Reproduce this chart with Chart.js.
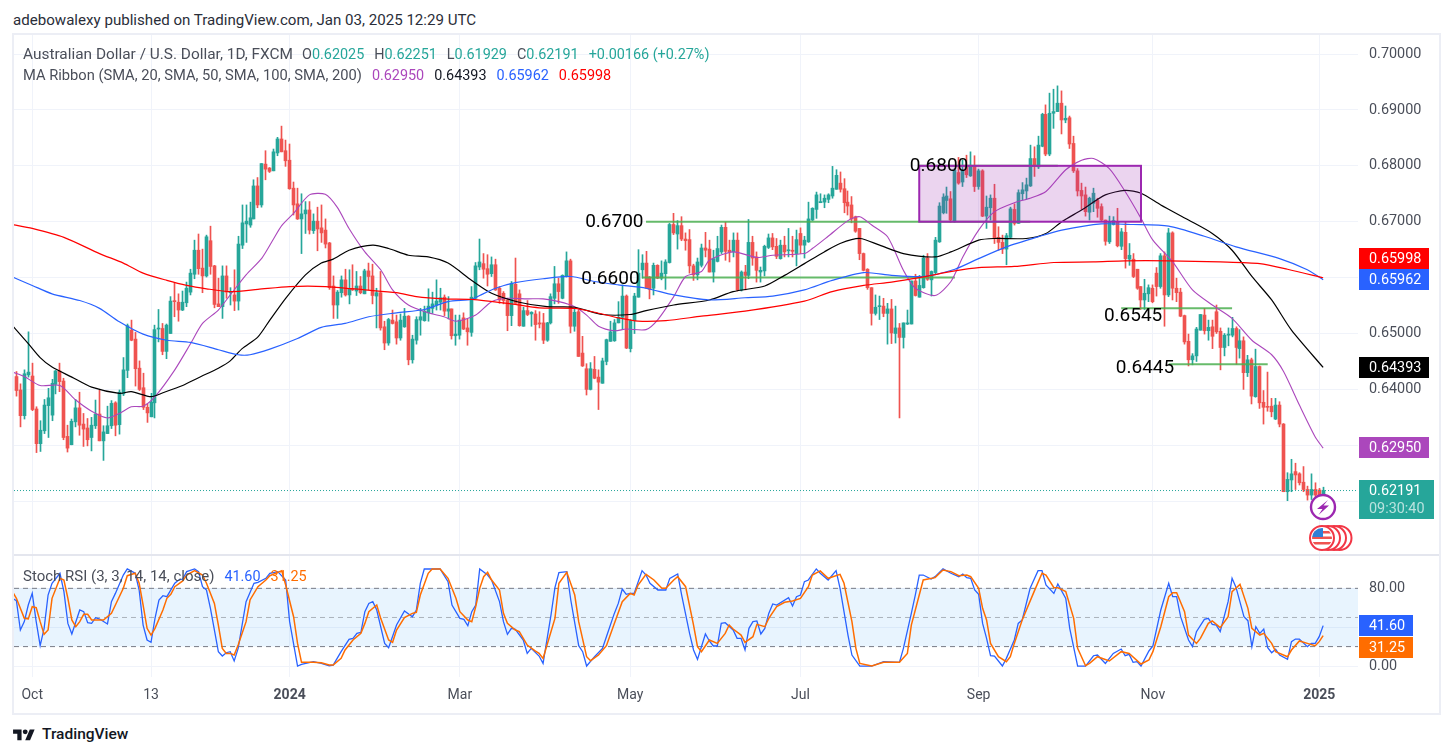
<!DOCTYPE html>
<html lang="en">
<head>
<meta charset="utf-8">
<title>AUD/USD daily</title>
<script src="https://cdn.jsdelivr.net/npm/chart.js@4"></script>
<style>
  html, body { margin: 0; background: #fff; overflow: hidden; }
  body { width: 1453px; height: 756px; position: relative; font-family: Roboto, sans-serif; color: #131722; }
  .abs { position: absolute; white-space: pre; }
  #frame { position: absolute; left: 12px; top: 33px; width: 1425px; height: 678px; border: 2px solid #eceef5; }
  #split { position: absolute; left: 14px; top: 554px; width: 1425px; height: 2px; background: #e4e6ee; }
  canvas { position: absolute; }
  #title { left: 13px; top: 11px; font-size: 15.1px; color: #2a2e39; }
  .legend { left: 23px; color: #4a4e59; }
  .legend span { font-size: 14.4px; margin-left: 10px; }
  .legend span.tight { margin-left: 0; }
  .up { color: #26a69a; }
  #brand { left: 42px; top: 725px; font-size: 15.5px; font-weight: 500; color: #131722; }
  #logo { position: absolute; left: 13px; top: 727px; }
</style>
</head>
<body>
<div id="frame"></div>
<canvas id="priceCanvas" style="left:14px;top:35px"></canvas>
<div id="split"></div>
<canvas id="stochCanvas" style="left:14px;top:556px"></canvas>

<div id="title" class="abs">adebowalexy published on TradingView.com, Jan 03, 2025 12:29 UTC</div>
<div class="abs legend" style="top:45px;font-size:15.4px">Australian Dollar / U.S. Dollar, 1D, FXCM<span style="margin-left:9px">O</span><span class="up tight">0.62025</span><span>H</span><span class="up tight">0.62251</span><span>L</span><span class="up tight">0.61929</span><span>C</span><span class="up tight">0.62191</span><span class="up">+0.00166 (+0.27%)</span></div>
<div class="abs legend" style="top:66px;font-size:14.7px">MA Ribbon (SMA, 20, SMA, 50, SMA, 100, SMA, 200)<span style="color:#ab47bc">0.62950</span><span style="color:#131722">0.64393</span><span style="color:#2962ff">0.65962</span><span style="color:#ff0000">0.65998</span></div>
<div class="abs legend" style="top:567px;font-size:15px">Stoch RSI (3, 3, 14, 14, close)<span style="color:#2962ff">41.60</span><span style="color:#ff6d00">31.25</span></div>

<svg id="logo" width="22" height="17" viewBox="0 0 36 28"><path fill="#131722" d="M14 22H7V11H0V4h14v18zM28 22h-8l7.5-18h8L28 22z"/><circle fill="#131722" cx="20" cy="8" r="4"/></svg>
<div id="brand" class="abs">TradingView</div>

<script>
// Daily AUD/USD candles, in units of 0.0001.
const opens = [6423,6399,6353,6426,6424,6365,6303,6326,6371,6354,
6409,6433,6415,6316,6301,6342,6367,6338,6331,6314,
6335,6356,6308,6321,6335,6376,6337,6392,6434,6506,
6490,6438,6403,6368,6351,6376,6508,6509,6468,6500,
6558,6556,6542,6555,6574,6606,6649,6617,6603,6666,
6621,6553,6548,6603,6573,6569,6558,6658,6696,6694,
6705,6764,6730,6803,6796,6791,6823,6848,6827,6810,
6760,6732,6705,6714,6721,6684,6701,6689,6685,6662,
6585,6551,6573,6596,6569,6580,6576,6585,6571,6612,
6603,6567,6573,6512,6483,6524,6521,6492,6512,6531,
6453,6488,6524,6523,6537,6545,6551,6556,6565,6540,
6544,6496,6497,6528,6510,6502,6563,6619,6625,6616,
6607,6623,6581,6572,6560,6532,6588,6571,6513,6541,
6535,6535,6519,6519,6488,6519,6563,6589,6563,6602,
6630,6513,6539,6465,6437,6400,6436,6422,6411,6450,
6486,6487,6519,6529,6567,6473,6523,6565,6614,6626,
6601,6581,6622,6599,6607,6627,6695,6678,6693,6669,
6668,6621,6605,6622,6653,6651,6610,6629,6646,6690,
6649,6646,6667,6578,6610,6604,6663,6637,6610,6612,
6654,6671,6656,6634,6658,6648,6649,6643,6679,6658,
6664,6703,6722,6734,6735,6740,6746,6758,6769,6759,
6735,6730,6709,6688,6643,6615,6582,6536,6548,6549,
6536,6544,6500,6510,6493,6517,6517,6594,6565,6582,
6635,6596,6609,6664,6716,6738,6741,6701,6788,6771,
6801,6782,6800,6763,6791,6710,6725,6742,6672,6663,
6651,6672,6722,6697,6750,6755,6764,6813,6798,6835,
6892,6821,6894,6897,6912,6882,6886,6840,6791,6756,
6748,6717,6733,6738,6727,6703,6664,6695,6700,6656,
6681,6633,6633,6615,6584,6560,6571,6581,6608,6584,
6639,6569,6680,6581,6574,6532,6486,6453,6460,6506,
6533,6505,6512,6539,6504,6475,6497,6497,6509,6473,
6487,6430,6453,6387,6441,6377,6369,6370,6347,6372,
6338,6217,6238,6253,6249,6234,6221,6211,6221,6220,6202.5];

const closes = [6398,6353,6428,6431,6364,6303,6327,6372,6385,6411,
6433,6414,6314,6295,6343,6367,6336,6329,6310,6336,
6356,6308,6324,6335,6375,6336,6395,6435,6514,6488,
6437,6400,6368,6358,6377,6507,6509,6468,6515,6558,
6557,6542,6556,6581,6608,6649,6616,6603,6673,6620,
6552,6548,6603,6574,6574,6558,6660,6698,6701,6707,
6764,6730,6804,6794,6790,6825,6848,6825,6809,6759,
6730,6705,6714,6721,6685,6701,6687,6680,6660,6582,
6551,6574,6596,6569,6580,6578,6585,6573,6612,6602,
6568,6573,6510,6483,6525,6518,6492,6524,6531,6453,
6490,6525,6530,6540,6549,6553,6558,6564,6540,6544,
6496,6499,6524,6508,6503,6565,6621,6628,6615,6606,
6623,6578,6560,6559,6532,6589,6554,6514,6541,6534,
6538,6516,6517,6488,6519,6566,6589,6575,6604,6630,
6513,6538,6459,6442,6400,6437,6420,6413,6451,6489,
6503,6519,6529,6567,6474,6523,6567,6608,6626,6581,
6579,6622,6599,6608,6628,6695,6680,6693,6669,6666,
6621,6605,6628,6653,6649,6610,6634,6652,6690,6647,
6646,6667,6578,6610,6604,6663,6635,6613,6613,6656,
6671,6655,6638,6658,6646,6649,6647,6668,6658,6667,
6705,6724,6748,6736,6742,6748,6760,6783,6758,6734,
6728,6705,6683,6643,6613,6582,6536,6547,6549,6536,
6544,6501,6510,6493,6519,6519,6594,6568,6586,6635,
6597,6611,6667,6728,6744,6746,6703,6792,6769,6792,
6784,6801,6763,6791,6710,6726,6742,6670,6663,6651,
6675,6723,6697,6752,6757,6766,6813,6800,6837,6892,
6821,6894,6897,6912,6882,6885,6839,6791,6755,6746,
6718,6742,6751,6724,6703,6665,6699,6702,6657,6682,
6634,6640,6602,6581,6560,6572,6582,6557,6584,6639,
6569,6680,6581,6573,6531,6485,6453,6460,6508,6534,
6505,6511,6495,6503,6475,6497,6499,6509,6475,6487,
6430,6453,6388,6441,6376,6368,6368,6360,6372,6338,
6217,6239,6249,6247,6233,6221,6211,6221,6211,6203,6219.1];

const highs = [6432,6410,6435,6503,6447,6369,6344,6382,6402,6418,
6434,6447,6420,6336,6347,6382,6395,6357,6348,6350,
6381,6399,6335,6370,6380,6378,6399,6457,6517,6524,
6502,6451,6429,6374,6393,6515,6543,6518,6517,6566,
6590,6571,6576,6592,6615,6667,6678,6651,6676,6692,
6622,6599,6621,6621,6582,6614,6674,6730,6730,6735,
6775,6779,6804,6827,6797,6830,6851,6871,6846,6839,
6771,6760,6750,6736,6736,6714,6726,6730,6705,6663,
6603,6577,6603,6615,6614,6623,6611,6602,6615,6626,
6624,6581,6611,6522,6527,6542,6533,6535,6545,6532,
6497,6530,6545,6549,6580,6574,6596,6581,6569,6566,
6544,6533,6533,6537,6526,6584,6627,6669,6643,6641,
6637,6633,6584,6575,6563,6593,6635,6578,6547,6559,
6539,6541,6539,6536,6520,6571,6620,6599,6605,6646,
6633,6545,6542,6495,6446,6448,6459,6435,6456,6490,
6522,6525,6557,6587,6569,6525,6572,6650,6641,6647,
6602,6626,6623,6630,6632,6697,6715,6702,6709,6680,
6686,6624,6635,6660,6681,6667,6649,6674,6694,6699,
6667,6680,6680,6612,6622,6704,6674,6646,6619,6658,
6678,6679,6670,6667,6674,6688,6674,6685,6689,6674,
6735,6725,6753,6750,6748,6750,6799,6793,6789,6777,
6755,6745,6710,6688,6644,6616,6582,6569,6567,6563,
6554,6561,6549,6518,6519,6542,6594,6606,6604,6640,
6643,6612,6672,6734,6750,6762,6754,6795,6815,6810,
6819,6825,6818,6794,6793,6746,6748,6767,6691,6676,
6679,6726,6732,6757,6770,6778,6837,6834,6853,6894,
6909,6930,6937,6943,6934,6907,6889,6853,6795,6769,
6762,6744,6760,6742,6732,6703,6710,6709,6724,6688,
6700,6661,6643,6615,6584,6597,6587,6587,6618,6643,
6646,6688,6682,6599,6581,6533,6499,6464,6511,6534,
6545,6524,6524,6551,6510,6500,6510,6529,6512,6507,
6494,6461,6456,6472,6442,6398,6431,6384,6384,6378,
6339,6251,6275,6268,6251,6262,6227,6249,6233,6223,6225.1];

const lows = [6388,6333,6347,6422,6362,6287,6289,6321,6314,6344,
6392,6396,6310,6288,6301,6333,6318,6298,6299,6290,
6330,6308,6273,6321,6330,6317,6320,6389,6421,6487,
6406,6398,6364,6341,6351,6349,6485,6462,6455,6500,
6530,6522,6541,6548,6569,6598,6606,6573,6601,6606,
6546,6548,6527,6563,6551,6541,6542,6652,6663,6690,
6705,6725,6726,6775,6788,6791,6818,6825,6799,6758,
6712,6704,6643,6679,6678,6679,6648,6663,6653,6579,
6527,6527,6565,6567,6553,6577,6568,6571,6571,6578,
6553,6510,6506,6471,6479,6517,6481,6488,6511,6444,
6447,6481,6497,6522,6522,6536,6542,6542,6532,6526,
6490,6479,6490,6507,6479,6495,6562,6614,6599,6585,
6602,6577,6554,6553,6505,6514,6554,6513,6513,6532,
6513,6488,6510,6482,6486,6517,6553,6554,6562,6601,
6501,6504,6459,6441,6390,6399,6419,6364,6411,6444,
6486,6486,6519,6507,6473,6467,6500,6565,6599,6581,
6562,6569,6598,6596,6579,6626,6677,6651,6666,6649,
6608,6595,6596,6619,6637,6610,6592,6628,6643,6631,
6628,6637,6576,6576,6578,6598,6622,6592,6592,6603,
6652,6650,6634,6633,6637,6637,6637,6621,6643,6635,
6663,6702,6706,6734,6725,6734,6742,6758,6753,6716,
6712,6698,6681,6632,6612,6579,6515,6533,6525,6530,
6481,6482,6483,6349,6474,6516,6517,6567,6565,6581,
6595,6567,6606,6663,6714,6715,6699,6699,6767,6763,
6779,6781,6754,6758,6709,6688,6703,6661,6649,6643,
6623,6670,6694,6697,6739,6740,6763,6781,6795,6834,
6818,6818,6867,6897,6857,6877,6831,6788,6746,6722,
6710,6703,6718,6708,6702,6658,6661,6694,6655,6650,
6617,6622,6600,6579,6543,6543,6557,6555,6567,6581,
6513,6566,6560,6557,6530,6481,6442,6444,6450,6506,
6499,6488,6473,6500,6435,6460,6478,6494,6445,6456,
6400,6423,6374,6386,6366,6338,6361,6351,6346,6333,
6217,6201,6217,6221,6229,6217,6202,6203,6205,6198,6192.9];

// Moving averages: bar index and level of each vertex.
const sma20Bars = [-1,2,6,11,15,19,23,26,29,32,35,40,44,47,51,54,58,62,65,67,70,74,78,81,84,88,92,95,99,104,108,111,116,120,124,129,133,137,141,144,147,151,154,159,162,166,169,173,175,181,187,191,199,201,205,210,213,216,220,224,227,232,236,239,243,247,252,256,260,265,269,272,276,280,284,287,292,297,302,307,312,317,320,324,328,330];
const sma20 = [6431,6423,6407,6407,6381,6361,6349,6357,6369,6370,6387,6435,6482,6518,6542,6569,6605,6635,6670,6693,6715,6748,6749,6726,6688,6646,6614,6578,6551,6537,6530,6522,6533,6557,6563,6562,6562,6557,6548,6533,6513,6505,6508,6507,6525,6566,6602,6611,6631,6646,6636,6640,6643,6652,6674,6702,6709,6694,6673,6613,6581,6568,6593,6637,6685,6718,6734,6742,6754,6793,6810,6813,6795,6754,6706,6667,6628,6578,6551,6527,6488,6462,6432,6372,6315,6295];
const sma50Bars = [-1,3,6,9,14,19,26,29,34,37,42,46,51,54,57,61,64,68,73,77,80,84,90,94,99,104,109,115,120,127,134,141,148,155,159,166,175,181,189,194,199,204,208,213,218,224,232,236,243,247,255,260,264,269,275,280,284,289,296,302,307,312,317,322,330];
const sma50 = [6514,6482,6457,6440,6422,6404,6393,6396,6387,6394,6407,6421,6438,6451,6473,6494,6524,6563,6605,6626,6633,6649,6658,6652,6640,6637,6626,6595,6572,6556,6548,6547,6534,6534,6541,6551,6560,6575,6585,6604,6625,6646,6661,6670,6658,6643,6637,6646,6667,6670,6670,6679,6700,6721,6748,6756,6751,6730,6703,6679,6649,6602,6560,6506,6439.3];
const sma100Bars = [-1,4,9,16,21,26,32,38,44,51,56,59,64,71,77,83,89,96,103,109,115,117,121,126,133,140,146,152,159,166,175,184,191,199,206,214,221,229,237,243,250,258,264,274,282,291,300,308,319,326,330];
const sma100 = [6601,6586,6571,6559,6545,6521,6499,6488,6484,6471,6462,6462,6472,6491,6511,6518,6530,6537,6543,6557,6561,6568,6581,6591,6598,6602,6593,6587,6581,6569,6560,6564,6567,6578,6595,6609,6604,6602,6615,6634,6655,6673,6685,6696,6695,6692,6674,6655,6634,6614,6596.2];
const sma200Bars = [-1,4,12,21,27,32,38,43,48,54,61,69,78,88,96,101,108,115,125,132,141,146,152,157,164,173,184,199,206,214,221,228,237,243,252,262,272,280,291,304,314,321,330];
const sma200 = [6695,6688,6672,6643,6626,6608,6595,6586,6580,6575,6579,6584,6584,6578,6573,6566,6562,6561,6553,6546,6545,6538,6528,6522,6523,6531,6540,6558,6575,6586,6592,6600,6612,6618,6620,6627,6628,6630,6630,6628,6625,6615,6599.8];

// Stochastic RSI %K and %D.
const stochKBars = [-1,0,1,2,3,4,5,6,7,8,9,11,12,13,14,16,17,18,19,20,21,23,24,25,27,28,30,31,32,33,34,35,36,37,38,40,41,42,43,45,46,47,48,49,51,52,53,54,55,56,58,60,61,63,64,66,68,69,71,72,75,77,79,80,82,84,85,86,87,88,89,90,91,93,94,96,98,100,101,102,103,107,109,110,112,113,114,115,116,117,119,120,122,123,124,125,126,128,129,130,132,133,135,136,137,139,140,142,143,144,146,148,149,151,152,153,154,155,156,158,159,160,162,164,165,167,168,170,171,172,174,175,176,177,178,179,181,182,183,184,185,186,187,188,189,190,191,192,195,196,197,198,199,200,202,203,205,207,208,210,211,213,216,219,223,224,226,227,228,229,231,232,234,236,238,239,240,241,242,243,244,245,246,247,249,250,252,253,254,256,258,259,260,262,263,265,266,268,270,272,273,275,277,279,280,281,282,283,284,286,287,289,291,292,293,294,296,297,298,300,301,302,303,304,305,306,307,308,310,311,312,313,314,315,316,317,318,319,321,322,323,324,326,327,328,329,330];
const stochK = [69.7,67.3,37.1,45.7,62.8,74.8,45.7,20.9,38.8,73.1,85.2,95.5,76.6,43.9,33,57.7,56,44.6,43.9,49.8,48.4,43.3,66.3,74.8,93.7,100,95.5,78.3,42.2,26.8,24.4,49.1,68,72.4,71.4,85.2,88.6,89.6,97.2,100,97.2,81.7,78.3,59.4,14.8,10.3,13.7,14.8,5.2,18.2,66.3,85.2,86.2,90.3,95.5,97.2,88.6,45.7,0,1.7,4.5,2.7,0.3,1,14.8,27.5,28.5,33.6,34.7,56,64.5,66.3,57.7,23.3,18.9,42.2,56.7,50.8,57.7,85.2,99.9,100,86.9,62.8,49.1,48.1,41.5,56,62.8,100,93.7,88.6,66.3,45.7,32.6,38.8,37.8,26.8,13,18.2,10.3,2.7,52.5,80.7,96.1,97.2,68,20.9,14.8,0,9.6,18.2,30.2,54.2,64.5,79.3,73.8,74.8,74.8,98.2,93.7,85.2,78.3,78.3,90.3,94.8,73.1,33.6,16.5,6.9,33,25.8,20.6,20.6,43.9,44.6,37.1,28.5,28.5,16.5,38.8,45.7,46.4,33,38.8,54.2,63.9,62.8,70.4,61.8,71.4,73.1,86.9,88.6,100,95.5,88.6,98.2,80,31.9,11.3,0,0,4.5,3.8,18.2,54.2,73.1,93.7,93.7,89.6,92,100,95.5,92,94.8,91,90.3,78.3,73.8,43.9,28.5,10.6,10.3,0,7.9,26.8,43.9,47.4,80,98.2,98.2,83.4,74.8,84.5,69.7,38.8,0,0,10.6,11.3,2.7,13,17.5,10.6,12,3.8,4.5,0,15.5,20.6,57.7,85.2,71.4,71.4,50.8,26.8,19.9,35.4,48.1,49.1,42.9,42.2,35.4,50.8,66.3,90.3,81,50.8,46.7,19.9,40.5,33.6,38.1,18.9,13.7,17.2,11.3,6.9,25.1,27.8,27.8,19.9,23.3,23.3,30.2,41.6];
const stochDBars = [-1,0,2,3,4,5,6,7,8,9,11,12,13,14,15,16,17,18,19,21,22,24,25,27,28,30,31,32,33,34,35,37,38,39,40,42,43,45,47,48,50,51,52,53,54,55,56,58,59,61,63,64,67,68,70,71,72,75,77,79,80,82,83,85,87,88,89,91,92,94,95,96,98,100,101,102,104,105,107,109,111,112,114,115,116,117,118,119,120,122,123,124,126,127,129,131,132,133,134,136,137,139,141,142,144,145,147,149,151,153,155,156,157,159,161,163,164,166,167,169,171,172,173,175,177,179,180,181,183,184,186,187,189,190,192,194,196,198,200,201,203,205,208,209,211,212,213,216,219,223,225,226,228,229,232,234,236,238,240,241,243,244,245,246,248,250,251,252,254,257,259,260,262,263,265,267,268,270,271,273,276,279,281,284,286,287,289,291,292,293,295,296,298,299,301,302,304,306,307,309,311,312,314,315,317,318,321,322,324,326,328,329,330];
const stochD = [76.6,69.7,49.1,48.4,61.1,60.1,45.7,32.6,37.1,69.7,90.3,88.6,69.7,47.4,40.5,45.7,53.2,53.2,47.4,47.4,47.4,54.2,62.8,80,93,95.5,85.2,62.8,38.8,31.9,38.8,57.7,69.7,73.8,81.7,87.6,93.7,98.2,93.7,85.2,64.5,42.2,18.2,13,13,11.3,21.6,45.7,68,81.7,88.6,93,98.2,83.4,50.8,23.3,3.8,3.8,3.4,1,1,7.9,16.5,26.8,33.6,43.9,56,62.8,49.1,26.8,24.4,37.1,49.8,54.2,55.3,73.1,95.5,100,100,90.3,69.7,56,47.4,45.7,61.1,80,92,96.5,88.6,78.3,54.2,43.9,37.1,35.4,21.6,15.5,13,7.9,21.6,49.1,85.2,96.5,73.1,45.7,9.6,5.5,11.3,20.9,43.9,66.3,74.8,73.1,83.4,94.4,88.6,80,80,88.6,92,81.7,42.2,19.9,14.8,26.8,23.3,33.6,42.2,38.1,31.9,24.4,30.2,42.9,40.5,49.1,61.1,65.6,67,69.7,81.7,93.7,97.9,90.3,94.4,85.2,45.7,18.2,2.7,0,3.8,3.8,13,42.2,73.1,88.6,91,98.9,97.2,93,93.7,92,80,59.4,47.4,23.3,9.6,4.5,9.6,23.3,47.4,76.6,95.5,93.7,80.7,80.7,76.6,49.1,18.2,0.3,2.7,9.6,5.2,14.8,13,2.1,6.2,14.8,40.5,71.4,75.5,75.5,56,31.9,23.3,28.5,43.9,46.4,39.5,50.8,76.6,84.1,59.4,38.8,31.9,33.6,23.3,14.8,9.6,16.5,25.8,23.3,20.9,25.1,31.25];

// Hand-drawn support and resistance levels.
const levelLabels = ["0.6700","0.6600","0.6800","0.6545","0.6445"];
const levelValues = [6700,6600,6800,6545,6445];
const levelFrom = [159,158,228,279,291];
const levelTo = [256,237,263,307,316];
const labelBars = [151,150,233,282,285];
const labelLevels = [6699,6597,6799,6531,6438];
const zoneBars = [228,284];
const zoneLevels = [6700,6800];

// Time axis.
const timeTickBars = [4,34,69,112,155,198,243,287,329];
const timeTickLabels = ["Oct","13","2024","Mar","May","Jul","Sep","Nov","2025"];
const stochBands = [80,50,20];

const viewFirst = -0.606, viewLast = 338.8;
const UP = "#26a69a", DOWN = "#ef5350", GRID = "#f0f3fa", TEXT = "#4a4e59";
const FONT = "Roboto, sans-serif";
const price = v => v / 10000;
const barColor = ctx => closes[ctx.dataIndex] >= opens[ctx.dataIndex] ? UP : DOWN;
const polyline = (xs, ys, map) => xs.map((x, i) => ({ x, y: map ? map(ys[i]) : ys[i] }));

function lineSet(data, color, width, extra) {
  return Object.assign({ type: "line", data, borderColor: color, borderWidth: width,
    pointRadius: 0, tension: 0, fill: false, order: 1 }, extra);
}

// The plot areas must fill their canvases, so label overhang is not reserved.
function noOverhang(s) {
  s.paddingTop = s.paddingBottom = s.paddingLeft = s.paddingRight = 0;
}

const timeScale = (showLabels) => ({
  type: "linear", min: viewFirst, max: viewLast, offset: false,
  grid: { offset: false, color: GRID, drawTicks: false },
  border: { display: false },
  afterBuildTicks: s => { s.ticks = timeTickBars.map(value => ({ value })); },
  afterFit: s => { s.height = showLabels ? 35 : 0; noOverhang(s); },
  ticks: {
    display: showLabels, autoSkip: false, maxRotation: 0, padding: 10, color: TEXT,
    font: ctx => ({ family: FONT, size: 14,
      weight: ctx.tick && (ctx.tick.value === 69 || ctx.tick.value === 329) ? "700" : "400" }),
    callback: v => timeTickLabels[timeTickBars.indexOf(v)]
  }
});

// Centre wicks and bodies on a whole device pixel so that they stay crisp.
const pixelSnap = {
  id: "pixelSnap",
  afterDatasetsUpdate(chart) {
    chart.data.datasets.forEach((d, k) => {
      if (d.snap) chart.getDatasetMeta(k).data.forEach(el => { el.x = Math.floor(el.x) + 0.5; });
    });
  }
};

function valueTag(ctx, left, top, w, h, bg, text) {
  ctx.fillStyle = bg;
  ctx.fillRect(left, top, w, h);
  ctx.fillStyle = "#fff";
  ctx.font = "14.4px " + FONT;
  ctx.textAlign = "left";
  ctx.textBaseline = "middle";
  ctx.fillText(text, left + 10, top + h / 2 + 0.5);
}

const priceOverlay = {
  id: "priceOverlay",
  afterDatasetsDraw(chart) {
    const { ctx, scales: { x, y } } = chart;
    // consolidation zone
    const zx0 = x.getPixelForValue(zoneBars[0]), zx1 = x.getPixelForValue(zoneBars[1]);
    const zy0 = y.getPixelForValue(price(zoneLevels[1])), zy1 = y.getPixelForValue(price(zoneLevels[0]));
    ctx.save();
    ctx.fillStyle = "rgba(156,39,176,0.2)";
    ctx.fillRect(zx0, zy0, zx1 - zx0, zy1 - zy0);
    ctx.strokeStyle = "#9c27b0";
    ctx.lineWidth = 2;
    ctx.strokeRect(zx0, zy0, zx1 - zx0, zy1 - zy0);
    // level captions
    ctx.fillStyle = "#000";
    ctx.font = "19px " + FONT;
    ctx.textAlign = "center";
    ctx.textBaseline = "middle";
    levelLabels.forEach((t, i) => {
      ctx.fillText(t, x.getPixelForValue(labelBars[i]), y.getPixelForValue(price(labelLevels[i])));
    });
    ctx.restore();
  },
  afterDraw(chart) {
    const { ctx } = chart;
    const last = closes.length - 1;
    ctx.save();
    ctx.translate(-14, -35);
    valueTag(ctx, 1359, 248, 70, 21, "#ff0000", price(sma200[sma200.length - 1]).toFixed(5));
    valueTag(ctx, 1359, 269, 70, 21, "#2962ff", price(sma100[sma100.length - 1]).toFixed(5));
    valueTag(ctx, 1359, 357, 70, 21, "#000000", price(sma50[sma50.length - 1]).toFixed(5));
    valueTag(ctx, 1359, 437, 70, 21, "#ab47bc", price(sma20[sma20.length - 1]).toFixed(5));
    // last price and countdown
    ctx.fillStyle = UP;
    ctx.fillRect(1359, 480, 75, 39);
    ctx.font = "14.4px " + FONT;
    ctx.textAlign = "left";
    ctx.textBaseline = "middle";
    ctx.fillStyle = "#fff";
    ctx.fillText(price(closes[last]).toFixed(5), 1369, 491);
    ctx.fillStyle = "rgba(255,255,255,0.68)";
    ctx.fillText("09:30:40", 1369, 509);

    // data-release flag markers
    [1339.5, 1334, 1328, 1322].forEach((cx, n) => {
      ctx.beginPath();
      ctx.arc(cx, 538, 12, 0, Math.PI * 2);
      ctx.fillStyle = "#fff";
      ctx.fill();
      ctx.lineWidth = 2;
      ctx.strokeStyle = "#f23645";
      ctx.stroke();
      if (n === 3) {
        ctx.save();
        ctx.beginPath();
        ctx.arc(cx, 538, 10, 0, Math.PI * 2);
        ctx.clip();
        ctx.fillStyle = "#ef5350";
        ctx.fillRect(cx - 10, 531, 20, 2.5);
        ctx.fillRect(cx - 10, 536.5, 20, 2.5);
        ctx.fillRect(cx - 10, 542, 20, 2.5);
        ctx.fillStyle = "#2f7fd6";
        ctx.fillRect(cx - 10, 528, 11, 9);
        ctx.restore();
      }
    });
    // session marker
    ctx.beginPath();
    ctx.arc(1323, 507, 12, 0, Math.PI * 2);
    ctx.fillStyle = "#fff";
    ctx.fill();
    ctx.lineWidth = 2.4;
    ctx.strokeStyle = "#9c27b0";
    ctx.stroke();
    ctx.beginPath();
    ctx.moveTo(1328, 500); ctx.lineTo(1317, 509); ctx.lineTo(1322.5, 509);
    ctx.lineTo(1318.5, 515); ctx.lineTo(1329, 505.5); ctx.lineTo(1323.5, 505.5);
    ctx.closePath();
    ctx.fillStyle = "#9c27b0";
    ctx.fill();
    ctx.restore();
  }
};

const stochOverlay = {
  id: "stochOverlay",
  afterDraw(chart) {
    const { ctx } = chart;
    ctx.save();
    ctx.translate(-14, -556);
    valueTag(ctx, 1359, 615, 54, 21, "#2962ff", stochK[stochK.length - 1].toFixed(2));
    valueTag(ctx, 1359, 637, 54, 21, "#ff6d00", stochD[stochD.length - 1].toFixed(2));
    ctx.restore();
  }
};

Chart.defaults.animation = false;
Chart.defaults.responsive = false;
Chart.defaults.font.family = FONT;
Chart.defaults.plugins.legend.display = false;
Chart.defaults.plugins.tooltip.enabled = false;

const priceEl = document.getElementById("priceCanvas");
priceEl.width = 1425; priceEl.height = 520;
const bars = closes.map((_, i) => i);

new Chart(priceEl, {
  type: "bar",
  data: {
    datasets: [
      { label: "wick", data: bars.map(i => ({ x: i, y: [price(lows[i]), price(highs[i])] })),
        backgroundColor: barColor, barThickness: 1, grouped: false, order: 4, snap: true },
      { label: "body", data: bars.map(i => ({ x: i, y: [price(Math.min(opens[i], closes[i])), price(Math.max(opens[i], closes[i]))] })),
        backgroundColor: barColor, barThickness: 3, grouped: false, minBarLength: 1, order: 3, snap: true },
      ...levelValues.map((v, i) => lineSet(
        [{ x: levelFrom[i], y: price(v) }, { x: levelTo[i], y: price(v) }],
        "rgba(76,175,80,0.85)", 2, { order: 2 })),
      lineSet([{ x: viewFirst, y: price(closes[closes.length - 1]) }, { x: viewLast, y: price(closes[closes.length - 1]) }],
        UP, 1, { borderDash: [1, 2], order: 2 }),
      lineSet(polyline(sma200Bars, sma200, price), "#ff0000", 1.2, { tension: 0.25 }),
      lineSet(polyline(sma100Bars, sma100, price), "#2962ff", 1.2, { tension: 0.25 }),
      lineSet(polyline(sma50Bars, sma50, price), "#000000", 1.2, { tension: 0.25 }),
      lineSet(polyline(sma20Bars, sma20, price), "#ab47bc", 1.1, { tension: 0.25 })
    ]
  },
  options: {
    layout: { padding: 0 },
    scales: {
      x: timeScale(false),
      y: {
        position: "right", min: 0.61038, max: 0.7034, beginAtZero: false,
        grid: { color: GRID, drawTicks: false },
        border: { display: false },
        afterFit: s => { s.width = 81; noOverhang(s); },
        ticks: { stepSize: 0.01, includeBounds: false, autoSkip: false, padding: 11, color: TEXT,
          font: { family: FONT, size: 14.4 }, callback: v => v.toFixed(5) }
      }
    }
  },
  plugins: [pixelSnap, priceOverlay]
});

const stochEl = document.getElementById("stochCanvas");
stochEl.width = 1425; stochEl.height = 156;

new Chart(stochEl, {
  type: "line",
  data: {
    datasets: [
      lineSet([{ x: viewFirst, y: stochBands[0] }, { x: viewLast, y: stochBands[0] }],
        "rgba(0,0,0,0)", 0, { fill: { value: stochBands[2] }, backgroundColor: "rgba(33,150,243,0.1)", order: 5 }),
      lineSet([{ x: viewFirst, y: stochBands[0] }, { x: viewLast, y: stochBands[0] }], "#787b86", 1, { borderDash: [5, 4], order: 4 }),
      lineSet([{ x: viewFirst, y: stochBands[1] }, { x: viewLast, y: stochBands[1] }], "rgba(120,123,134,0.55)", 1, { borderDash: [5, 4], order: 4 }),
      lineSet([{ x: viewFirst, y: stochBands[2] }, { x: viewLast, y: stochBands[2] }], "#787b86", 1, { borderDash: [5, 4], order: 4 }),
      lineSet(polyline(stochKBars, stochK), "#2962ff", 1.3, { order: 2 }),
      lineSet(polyline(stochDBars, stochD), "#ff6d00", 1.5, { order: 1 })
    ]
  },
  options: {
    layout: { padding: 0 },
    scales: {
      x: timeScale(true),
      y: {
        position: "right", min: -11.3, max: 113.3,
        grid: { color: GRID, drawTicks: false },
        border: { display: false },
        afterBuildTicks: s => { s.ticks = [0, 40, 80].map(value => ({ value })); },
        afterFit: s => { s.width = 81; noOverhang(s); },
        ticks: { autoSkip: false, padding: 11, color: TEXT,
          font: { family: FONT, size: 14.4 }, callback: v => v.toFixed(2) }
      }
    }
  },
  plugins: [stochOverlay]
});
</script>
</body>
</html>
